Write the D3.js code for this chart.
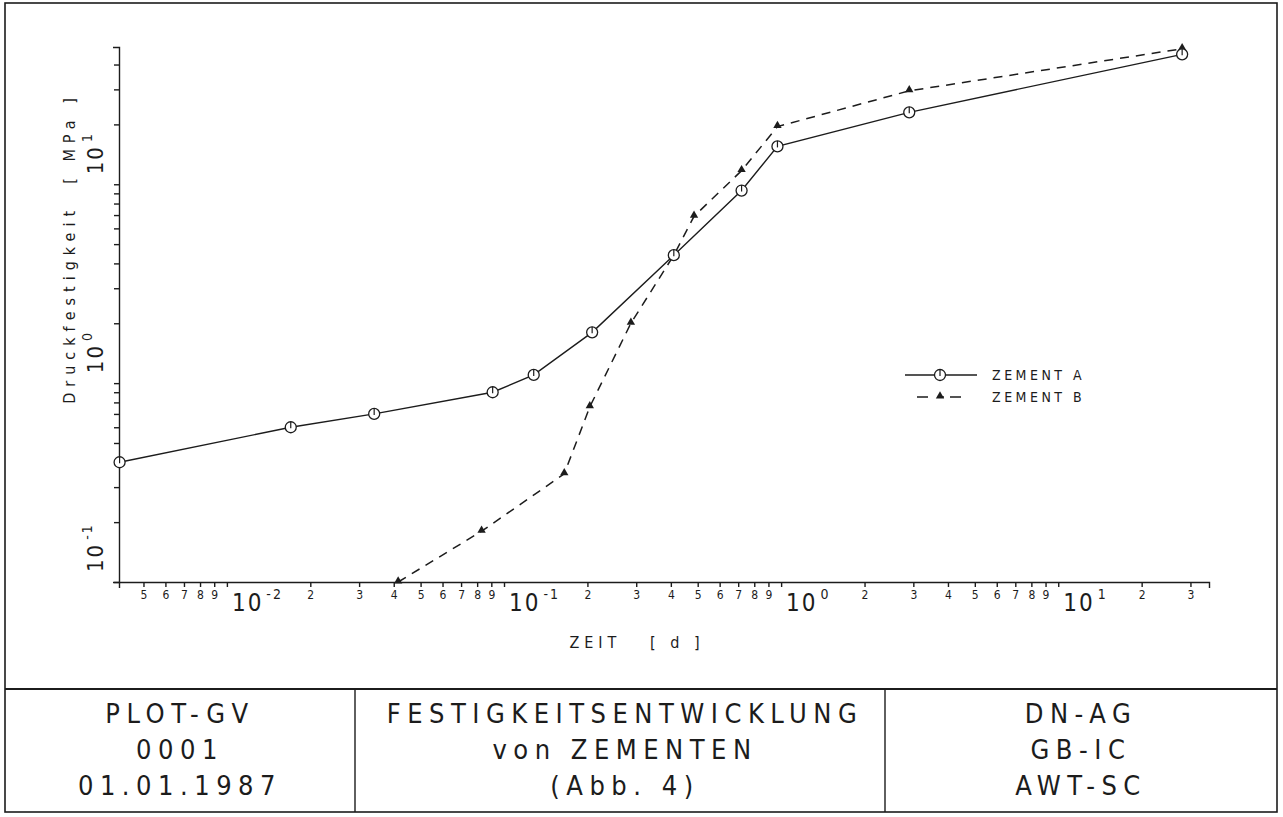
<!DOCTYPE html>
<meta charset="utf-8">
<script src="https://d3js.org/d3.v7.min.js"></script>
<style>
  body { margin: 0; background: #fff; }
  text { font-family: "DejaVu Sans Condensed", "Liberation Sans Narrow", "DejaVu Sans", sans-serif; fill: #1c1c1c; }
</style>
<div id="plot"></div>
<script>
// values (time in days, strength in MPa)
var timeA = [0.0041, 0.017, 0.034, 0.091, 0.128, 0.208, 0.41, 0.72, 0.97, 2.9, 28];
var strengthA = [0.40, 0.60, 0.70, 0.90, 1.1, 1.8, 4.4, 9.3, 15.5, 23, 45];
var timeB = [0.0415, 0.083, 0.165, 0.204, 0.287, 0.41, 0.485, 0.72, 0.97, 2.9, 28];
var strengthB = [0.1, 0.18, 0.35, 0.76, 2.0, 4.4, 6.9, 11.7, 19.5, 29.5, 48];

var seriesNames = ["ZEMENT A", "ZEMENT B"];

// axis ticks (decade exponents, multipliers inside a decade)
var xDecades = [-3, -2, -1, 0, 1];
var yDecades = [-1, 0, 1];
var minorSteps = [1, 2, 3, 4, 5, 6, 7, 8, 9];

// title block
var blockLeft = ["PLOT-GV", "0001", "01.01.1987"];
var blockMid = ["FESTIGKEITSENTWICKLUNG", "von ZEMENTEN", "(Abb. 4)"];
var blockRight = ["DN-AG", "GB-IC", "AWT-SC"];

var W = 1283, H = 817;
var ink = "#1c1c1c";

var svg = d3.select("#plot").append("svg")
  .attr("width", W).attr("height", H);

// scales
var x = d3.scaleLog().domain([0.00408, 35]).range([119, 1209]);
var y = d3.scaleLog().domain([0.1, 49]).range([582, 47]);

// tick values from decades x multipliers, clipped to the domain
function logTicks(scale, decades) {
  var out = [];
  decades.forEach(function(d) {
    minorSteps.forEach(function(m) {
      var v = m * Math.pow(10, d);
      if (v >= scale.domain()[0] && v <= scale.domain()[1]) out.push(v);
    });
  });
  return out;
}
var xTicks = logTicks(x, xDecades);
var yTicks = logTicks(y, yDecades);

function isDecade(v) {
  var l = Math.log10(v);
  return Math.abs(l - Math.round(l)) < 1e-9;
}

// X axis
var xAxis = svg.append("g")
  .attr("transform", "translate(0," + y.range()[0] + ")")
  .call(d3.axisBottom(x).tickValues(xTicks).tickSize(5).tickSizeOuter(6)
    .tickFormat(function(d) { return isDecade(d) ? "" : Math.round(d / Math.pow(10, Math.floor(Math.log10(d) + 1e-9))); }));
xAxis.selectAll("path, line").attr("stroke", ink).attr("stroke-width", 1.4);
xAxis.selectAll("text").attr("font-size", 12).attr("y", 8);

// decade labels x
xDecades.forEach(function(d) {
  var v = Math.pow(10, d);
  if (v < x.domain()[0]) return;
  var t = svg.append("text")
    .attr("x", x(v) + 5).attr("y", 611)
    .attr("font-size", 24).attr("letter-spacing", 2)
    .text("10");
  t.append("tspan").attr("dy", -12).attr("dx", 3).attr("font-size", 14).text(d);
});

// Y axis
var yAxis = svg.append("g")
  .attr("transform", "translate(" + x.range()[0] + ",0)")
  .call(d3.axisLeft(y).tickValues(yTicks).tickSize(5).tickSizeOuter(6).tickFormat(""));
yAxis.selectAll("path, line").attr("stroke", ink).attr("stroke-width", 1.4);

// decade labels y (rotated)
yDecades.forEach(function(d) {
  var v = Math.pow(10, d);
  var t = svg.append("text")
    .attr("transform", "translate(103," + (y(v) - 10) + ") rotate(-90)")
    .attr("font-size", 22).attr("letter-spacing", 2)
    .text("10");
  t.append("tspan").attr("dy", -11).attr("dx", 3).attr("font-size", 14).text(d);
});

// axis titles
svg.append("text")
  .attr("x", 637).attr("y", 648)
  .attr("text-anchor", "middle")
  .attr("font-size", 16).attr("letter-spacing", 5)
  .attr("xml:space", "preserve")
  .text("ZEIT   [ d ]");

svg.append("text")
  .attr("transform", "translate(75,248) rotate(-90)")
  .attr("text-anchor", "middle")
  .attr("font-size", 16).attr("letter-spacing", 6)
  .attr("xml:space", "preserve")
  .text("Druckfestigkeit  [ MPa ]");

// lines
var line = d3.line()
  .x(function(d) { return x(d[0]); })
  .y(function(d) { return y(d[1]); });

var dataA = d3.zip(timeA, strengthA);
var dataB = d3.zip(timeB, strengthB);

svg.append("path").datum(dataB)
  .attr("d", line).attr("fill", "none")
  .attr("stroke", ink).attr("stroke-width", 1.5)
  .attr("stroke-dasharray", "9,7");

svg.append("path").datum(dataA)
  .attr("d", line).attr("fill", "none")
  .attr("stroke", ink).attr("stroke-width", 1.4);

// markers
var tri = d3.symbol().type(d3.symbolTriangle).size(30);

function drawCircle(g, cx, cy) {
  g.append("circle").attr("cx", cx).attr("cy", cy).attr("r", 5.5)
    .attr("fill", "#fff").attr("stroke", ink).attr("stroke-width", 1.3);
  g.append("line").attr("x1", cx).attr("x2", cx).attr("y1", cy - 5.5).attr("y2", cy + 1)
    .attr("stroke", ink).attr("stroke-width", 1.2);
}

var markersB = svg.append("g");
markersB.selectAll("path").data(dataB).enter().append("path")
  .attr("d", tri)
  .attr("transform", function(d) { return "translate(" + x(d[0]) + "," + (y(d[1]) - 1) + ")"; })
  .attr("fill", ink);

var markersA = svg.append("g");
dataA.forEach(function(d) { drawCircle(markersA, x(d[0]), y(d[1])); });

// legend
var leg = svg.append("g");
leg.append("line").attr("x1", 905).attr("x2", 977).attr("y1", 375).attr("y2", 375)
  .attr("stroke", ink).attr("stroke-width", 1.3);
drawCircle(leg, 940, 375);
leg.append("line").attr("x1", 917).attr("x2", 965).attr("y1", 397).attr("y2", 397)
  .attr("stroke", ink).attr("stroke-width", 1.3).attr("stroke-dasharray", "11,12,4,6");
leg.append("path").attr("d", tri).attr("transform", "translate(940,396)").attr("fill", ink);
leg.selectAll("text.lab").data(seriesNames).enter().append("text")
  .attr("x", 992).attr("y", function(d, i) { return 380 + i * 22; })
  .attr("font-size", 14).attr("letter-spacing", 3.5)
  .text(function(d) { return d; });

// frame and title block
svg.append("rect").attr("x", 5).attr("y", 3).attr("width", 1272).attr("height", 809)
  .attr("fill", "none").attr("stroke", ink).attr("stroke-width", 1.6);
svg.append("line").attr("x1", 5).attr("x2", 1277).attr("y1", 689).attr("y2", 689)
  .attr("stroke", ink).attr("stroke-width", 2.2);
[355, 885].forEach(function(vx) {
  svg.append("line").attr("x1", vx).attr("x2", vx).attr("y1", 689).attr("y2", 812)
    .attr("stroke", ink).attr("stroke-width", 1.4);
});

var cols = [[180, blockLeft], [625, blockMid], [1081, blockRight]];
cols.forEach(function(c) {
  svg.selectAll(null).data(c[1]).enter().append("text")
    .attr("x", c[0]).attr("y", function(d, i) { return 723 + i * 36; })
    .attr("text-anchor", "middle")
    .attr("font-size", 27).attr("letter-spacing", 6.5)
    .text(function(d) { return d; });
});
</script>
